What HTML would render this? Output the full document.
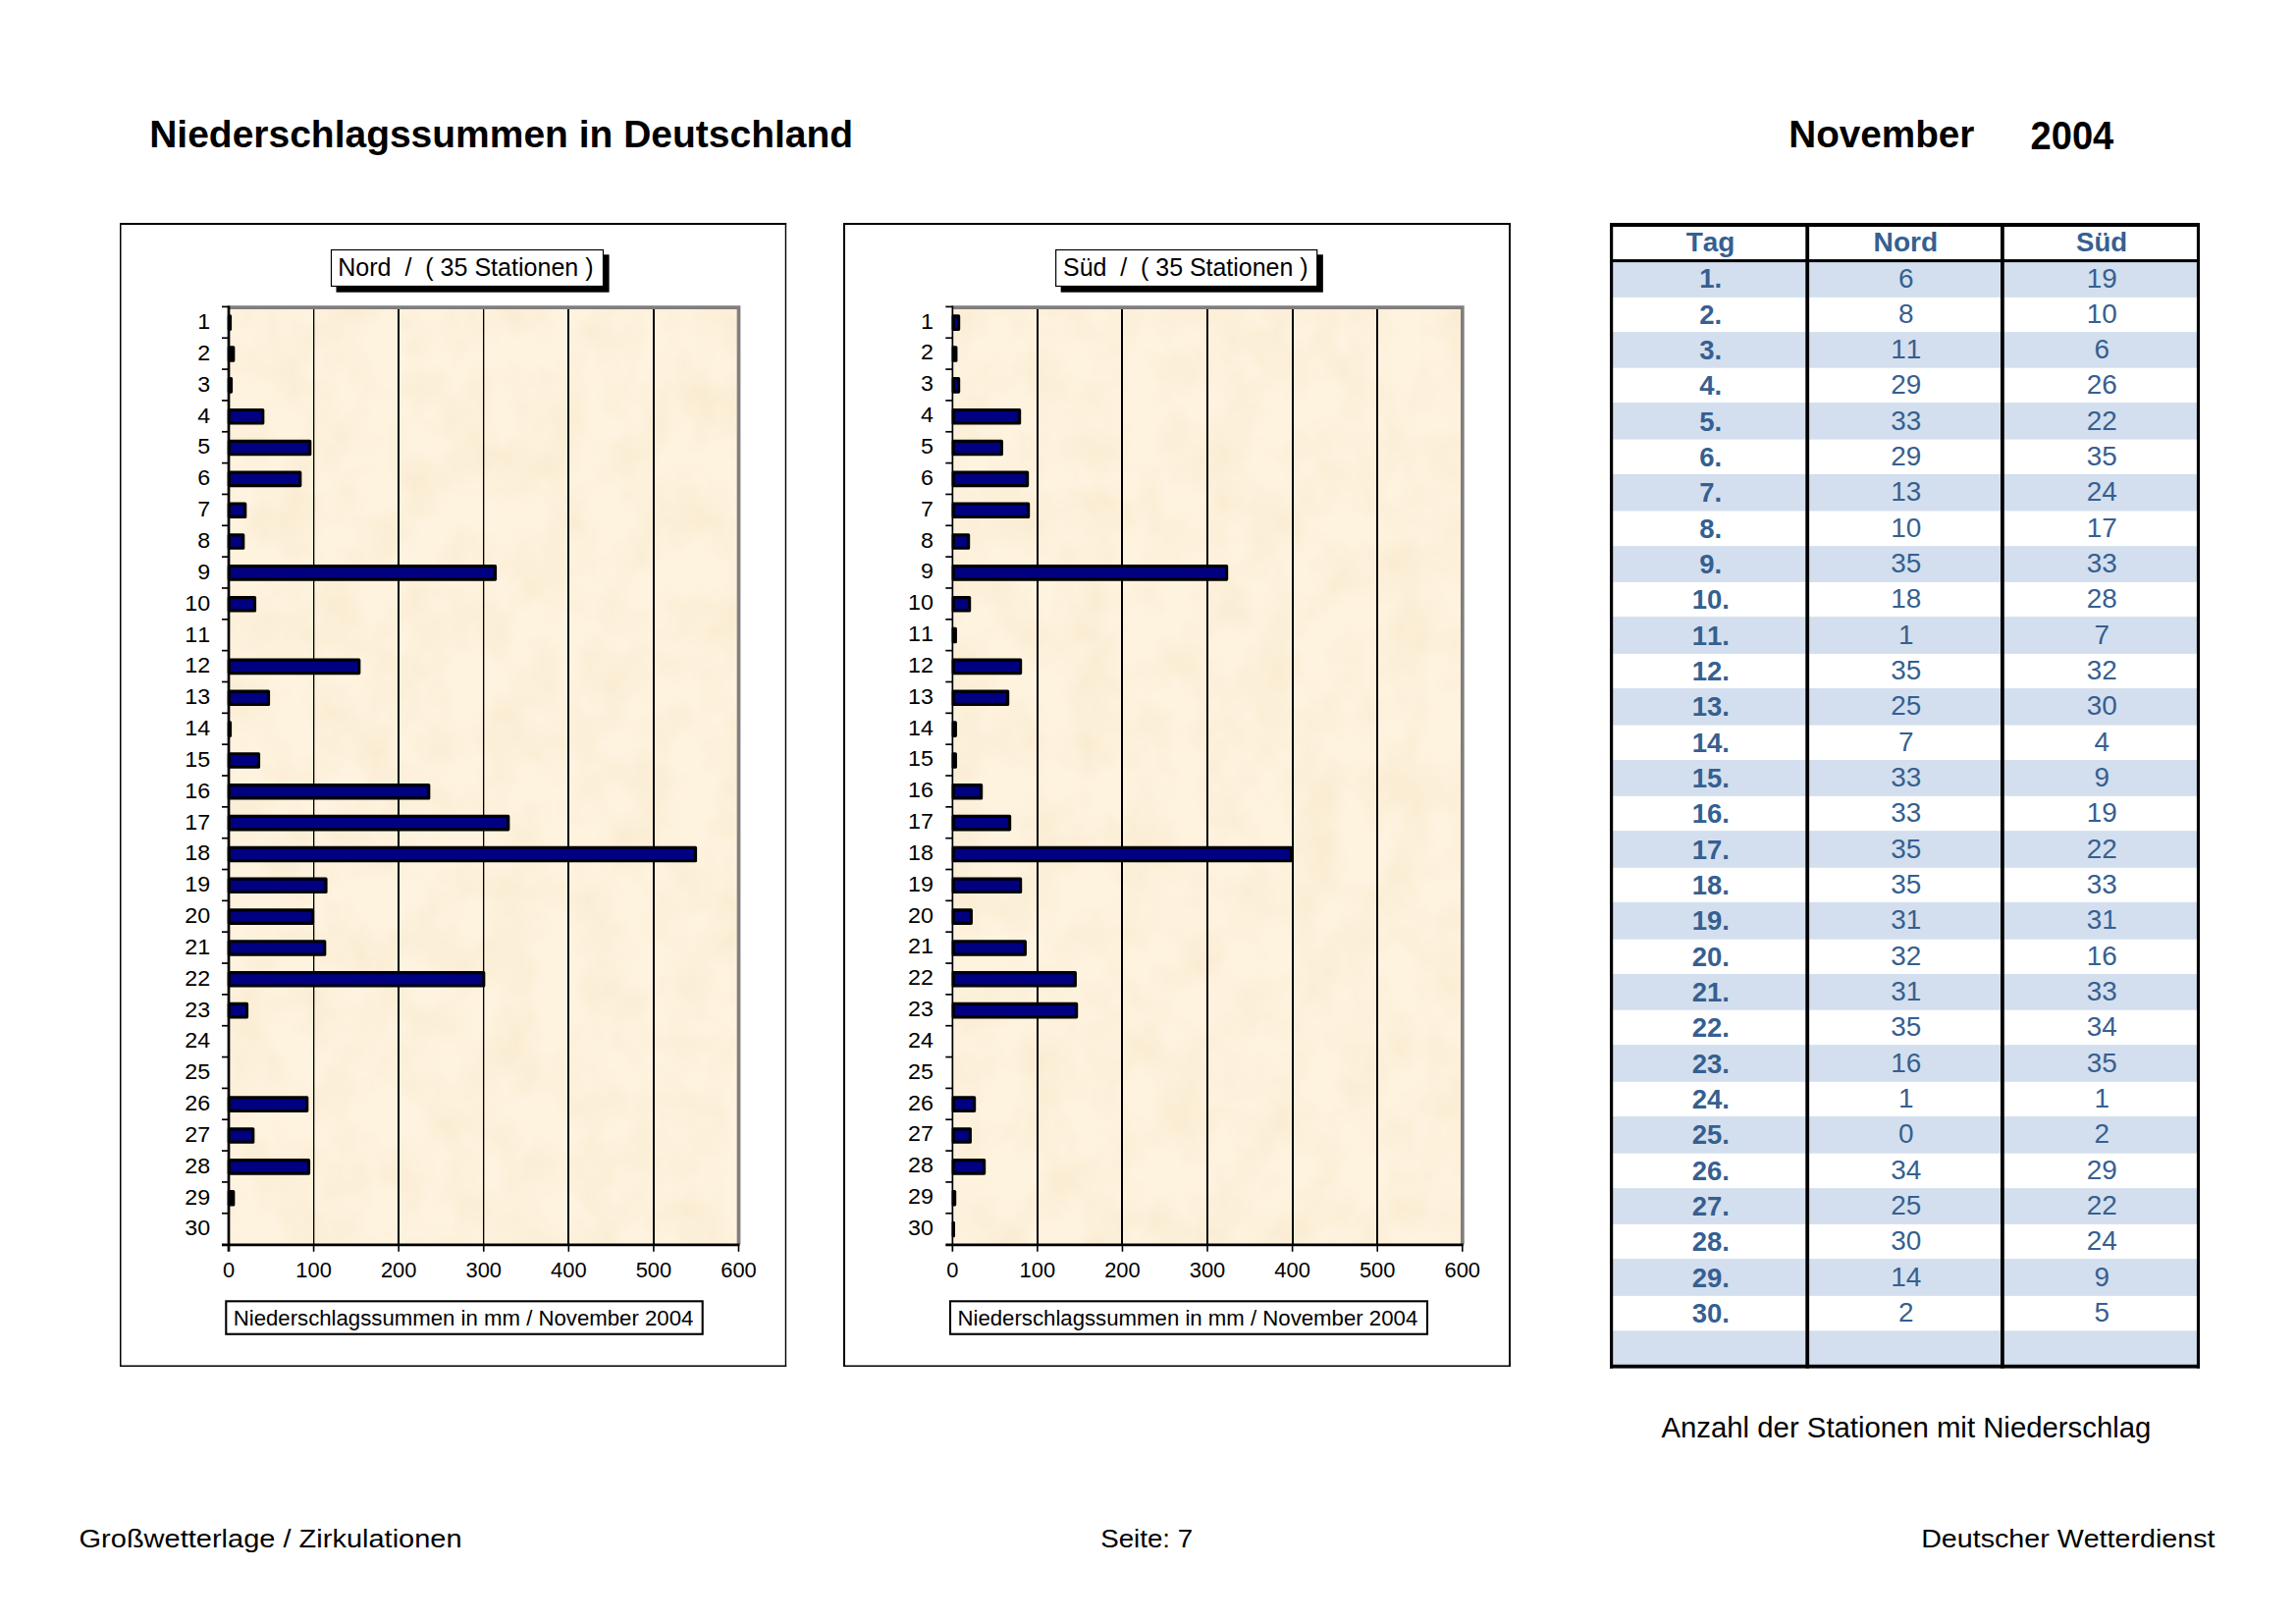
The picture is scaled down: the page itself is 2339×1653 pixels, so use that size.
<!DOCTYPE html>
<html lang="de"><head><meta charset="utf-8"><title>Niederschlagssummen in Deutschland – November 2004</title>
<style>html,body{margin:0;padding:0;background:#fff}body{width:2339px;height:1653px;overflow:hidden}svg{display:block}text{font-family:"Liberation Sans", Arial, Helvetica, sans-serif;fill:#000;font-kerning:none}</style>
</head><body>
<svg width="2339" height="1653" viewBox="0 0 2339 1653">
<rect width="2339" height="1653" fill="#fff"/>
<defs><filter id="tx" x="0" y="0" width="100%" height="100%" filterUnits="objectBoundingBox" color-interpolation-filters="sRGB"><feTurbulence type="fractalNoise" baseFrequency="0.022 0.018" numOctaves="3" seed="11" result="n"/><feColorMatrix in="n" type="matrix" values="0 0 0 0 0.86  0 0 0 0 0.70  0 0 0 0 0.42  0.21 0 0 0 -0.075"/></filter></defs>
<text x="152.19" y="150.2" font-size="39.3" font-weight="bold" textLength="716.88" lengthAdjust="spacingAndGlyphs" xml:space="preserve" style="white-space:pre">Niederschlagssummen in Deutschland</text>
<text x="1822.21" y="150.4" font-size="39.5" font-weight="bold" textLength="189.17" lengthAdjust="spacingAndGlyphs" xml:space="preserve" style="white-space:pre">November</text>
<text x="2068.58" y="151.8" font-size="40.4" font-weight="bold" textLength="84.72" lengthAdjust="spacingAndGlyphs" xml:space="preserve" style="white-space:pre">2004</text>
<g>
<rect x="122.75" y="228" width="677.7" height="1163.2" fill="#fff"/>
<line x1="122.75" y1="227" x2="122.75" y2="1391.8" stroke="#000" stroke-width="1.5"/>
<line x1="122" y1="228" x2="801.15" y2="228" stroke="#000" stroke-width="2"/>
<line x1="800.45" y1="227" x2="800.45" y2="1391.8" stroke="#000" stroke-width="1.4"/>
<line x1="122" y1="1391.25" x2="801.15" y2="1391.25" stroke="#000" stroke-width="1.3"/>
<rect x="342.5" y="259.3" width="278.1" height="38.4" fill="#000"/>
<rect x="337.5" y="254.5" width="277" height="37" fill="#fff" stroke="#000" stroke-width="1.2"/>
<text x="344.2" y="281.3" font-size="24.9" textLength="260.36" lengthAdjust="spacingAndGlyphs" xml:space="preserve" style="white-space:pre">Nord  /  ( 35 Stationen )</text>
<rect x="233" y="313" width="519.48" height="954.6" fill="#fef3df"/>
<rect x="233" y="313" width="519.48" height="954.6" fill="#000" filter="url(#tx)"/>
<path d="M233 313.1 H752.53 V1267.6" fill="none" stroke="#807e7e" stroke-width="3.7"/>
<rect x="319" y="315" width="1.3" height="952.6" fill="#000"/>
<rect x="405" y="315" width="2" height="952.6" fill="#000"/>
<rect x="492" y="315" width="1.3" height="952.6" fill="#000"/>
<rect x="578" y="315" width="2" height="952.6" fill="#000"/>
<rect x="665" y="315" width="2" height="952.6" fill="#000"/>
<rect x="233.35" y="321.97" width="1.15" height="13.4" fill="#000" stroke="#000" stroke-width="3.2" stroke-linejoin="round"/>
<rect x="233.35" y="353.81" width="4.4" height="13.4" fill="#000" stroke="#000" stroke-width="3.2" stroke-linejoin="round"/>
<rect x="233.35" y="385.65" width="2.15" height="13.4" fill="#000" stroke="#000" stroke-width="3.2" stroke-linejoin="round"/>
<rect x="233.35" y="417.49" width="34.4" height="13.4" fill="#000080" stroke="#000" stroke-width="3.2" stroke-linejoin="round"/>
<rect x="233.35" y="449.33" width="82.4" height="13.4" fill="#000080" stroke="#000" stroke-width="3.2" stroke-linejoin="round"/>
<rect x="233.35" y="481.17" width="72.4" height="13.4" fill="#000080" stroke="#000" stroke-width="3.2" stroke-linejoin="round"/>
<rect x="233.35" y="513.01" width="16.4" height="13.4" fill="#000080" stroke="#000" stroke-width="3.2" stroke-linejoin="round"/>
<rect x="233.35" y="544.85" width="14.4" height="13.4" fill="#000080" stroke="#000" stroke-width="3.2" stroke-linejoin="round"/>
<rect x="233.35" y="576.69" width="271.15" height="13.4" fill="#000080" stroke="#000" stroke-width="3.2" stroke-linejoin="round"/>
<rect x="233.35" y="608.53" width="26.15" height="13.4" fill="#000080" stroke="#000" stroke-width="3.2" stroke-linejoin="round"/>
<rect x="233.35" y="672.21" width="132.4" height="13.4" fill="#000080" stroke="#000" stroke-width="3.2" stroke-linejoin="round"/>
<rect x="233.35" y="704.05" width="40.15" height="13.4" fill="#000080" stroke="#000" stroke-width="3.2" stroke-linejoin="round"/>
<rect x="233.35" y="735.89" width="1.15" height="13.4" fill="#000" stroke="#000" stroke-width="3.2" stroke-linejoin="round"/>
<rect x="233.35" y="767.73" width="30.15" height="13.4" fill="#000080" stroke="#000" stroke-width="3.2" stroke-linejoin="round"/>
<rect x="233.35" y="799.57" width="203.4" height="13.4" fill="#000080" stroke="#000" stroke-width="3.2" stroke-linejoin="round"/>
<rect x="233.35" y="831.41" width="284.4" height="13.4" fill="#000080" stroke="#000" stroke-width="3.2" stroke-linejoin="round"/>
<rect x="233.35" y="863.25" width="475.15" height="13.4" fill="#000080" stroke="#000" stroke-width="3.2" stroke-linejoin="round"/>
<rect x="233.35" y="895.09" width="98.65" height="13.4" fill="#000080" stroke="#000" stroke-width="3.2" stroke-linejoin="round"/>
<rect x="233.35" y="926.93" width="85.15" height="13.4" fill="#000080" stroke="#000" stroke-width="3.2" stroke-linejoin="round"/>
<rect x="233.35" y="958.77" width="97.4" height="13.4" fill="#000080" stroke="#000" stroke-width="3.2" stroke-linejoin="round"/>
<rect x="233.35" y="990.61" width="259.4" height="13.4" fill="#000080" stroke="#000" stroke-width="3.2" stroke-linejoin="round"/>
<rect x="233.35" y="1022.45" width="18.15" height="13.4" fill="#000080" stroke="#000" stroke-width="3.2" stroke-linejoin="round"/>
<rect x="233.35" y="1117.97" width="79.4" height="13.4" fill="#000080" stroke="#000" stroke-width="3.2" stroke-linejoin="round"/>
<rect x="233.35" y="1149.81" width="24.4" height="13.4" fill="#000080" stroke="#000" stroke-width="3.2" stroke-linejoin="round"/>
<rect x="233.35" y="1181.65" width="81.15" height="13.4" fill="#000080" stroke="#000" stroke-width="3.2" stroke-linejoin="round"/>
<rect x="233.35" y="1213.49" width="4.4" height="13.4" fill="#000" stroke="#000" stroke-width="3.2" stroke-linejoin="round"/>
<line x1="233" y1="311.5" x2="233" y2="1274.8" stroke="#000" stroke-width="2.7"/>
<line x1="226" y1="1267.85" x2="753.38" y2="1267.85" stroke="#000" stroke-width="2.7"/>
<line x1="226" y1="312.4" x2="233" y2="312.4" stroke="#000" stroke-width="1.7"/>
<line x1="226" y1="344.24" x2="233" y2="344.24" stroke="#000" stroke-width="1.7"/>
<line x1="226" y1="376.08" x2="233" y2="376.08" stroke="#000" stroke-width="1.7"/>
<line x1="226" y1="407.92" x2="233" y2="407.92" stroke="#000" stroke-width="1.7"/>
<line x1="226" y1="439.76" x2="233" y2="439.76" stroke="#000" stroke-width="1.7"/>
<line x1="226" y1="471.6" x2="233" y2="471.6" stroke="#000" stroke-width="1.7"/>
<line x1="226" y1="503.44" x2="233" y2="503.44" stroke="#000" stroke-width="1.7"/>
<line x1="226" y1="535.28" x2="233" y2="535.28" stroke="#000" stroke-width="1.7"/>
<line x1="226" y1="567.12" x2="233" y2="567.12" stroke="#000" stroke-width="1.7"/>
<line x1="226" y1="598.96" x2="233" y2="598.96" stroke="#000" stroke-width="1.7"/>
<line x1="226" y1="630.8" x2="233" y2="630.8" stroke="#000" stroke-width="1.7"/>
<line x1="226" y1="662.64" x2="233" y2="662.64" stroke="#000" stroke-width="1.7"/>
<line x1="226" y1="694.48" x2="233" y2="694.48" stroke="#000" stroke-width="1.7"/>
<line x1="226" y1="726.32" x2="233" y2="726.32" stroke="#000" stroke-width="1.7"/>
<line x1="226" y1="758.16" x2="233" y2="758.16" stroke="#000" stroke-width="1.7"/>
<line x1="226" y1="790" x2="233" y2="790" stroke="#000" stroke-width="1.7"/>
<line x1="226" y1="821.84" x2="233" y2="821.84" stroke="#000" stroke-width="1.7"/>
<line x1="226" y1="853.68" x2="233" y2="853.68" stroke="#000" stroke-width="1.7"/>
<line x1="226" y1="885.52" x2="233" y2="885.52" stroke="#000" stroke-width="1.7"/>
<line x1="226" y1="917.36" x2="233" y2="917.36" stroke="#000" stroke-width="1.7"/>
<line x1="226" y1="949.2" x2="233" y2="949.2" stroke="#000" stroke-width="1.7"/>
<line x1="226" y1="981.04" x2="233" y2="981.04" stroke="#000" stroke-width="1.7"/>
<line x1="226" y1="1012.88" x2="233" y2="1012.88" stroke="#000" stroke-width="1.7"/>
<line x1="226" y1="1044.72" x2="233" y2="1044.72" stroke="#000" stroke-width="1.7"/>
<line x1="226" y1="1076.56" x2="233" y2="1076.56" stroke="#000" stroke-width="1.7"/>
<line x1="226" y1="1108.4" x2="233" y2="1108.4" stroke="#000" stroke-width="1.7"/>
<line x1="226" y1="1140.24" x2="233" y2="1140.24" stroke="#000" stroke-width="1.7"/>
<line x1="226" y1="1172.08" x2="233" y2="1172.08" stroke="#000" stroke-width="1.7"/>
<line x1="226" y1="1203.92" x2="233" y2="1203.92" stroke="#000" stroke-width="1.7"/>
<line x1="226" y1="1235.76" x2="233" y2="1235.76" stroke="#000" stroke-width="1.7"/>
<line x1="319.58" y1="1267.6" x2="319.58" y2="1274.8" stroke="#000" stroke-width="1.6"/>
<line x1="406.16" y1="1267.6" x2="406.16" y2="1274.8" stroke="#000" stroke-width="1.6"/>
<line x1="492.74" y1="1267.6" x2="492.74" y2="1274.8" stroke="#000" stroke-width="1.6"/>
<line x1="579.32" y1="1267.6" x2="579.32" y2="1274.8" stroke="#000" stroke-width="1.6"/>
<line x1="665.9" y1="1267.6" x2="665.9" y2="1274.8" stroke="#000" stroke-width="1.6"/>
<line x1="752.48" y1="1267.6" x2="752.48" y2="1274.8" stroke="#000" stroke-width="1.6"/>
<text x="201.27" y="335.12" font-size="22.8" textLength="12.93" lengthAdjust="spacingAndGlyphs">1</text>
<text x="201.27" y="366.96" font-size="22.8" textLength="12.93" lengthAdjust="spacingAndGlyphs">2</text>
<text x="201.27" y="398.8" font-size="22.8" textLength="12.93" lengthAdjust="spacingAndGlyphs">3</text>
<text x="201.27" y="430.64" font-size="22.8" textLength="12.93" lengthAdjust="spacingAndGlyphs">4</text>
<text x="201.27" y="462.48" font-size="22.8" textLength="12.93" lengthAdjust="spacingAndGlyphs">5</text>
<text x="201.27" y="494.32" font-size="22.8" textLength="12.93" lengthAdjust="spacingAndGlyphs">6</text>
<text x="201.27" y="526.16" font-size="22.8" textLength="12.93" lengthAdjust="spacingAndGlyphs">7</text>
<text x="201.27" y="558" font-size="22.8" textLength="12.93" lengthAdjust="spacingAndGlyphs">8</text>
<text x="201.27" y="589.84" font-size="22.8" textLength="12.93" lengthAdjust="spacingAndGlyphs">9</text>
<text x="188.33" y="621.68" font-size="22.8" textLength="25.87" lengthAdjust="spacingAndGlyphs">10</text>
<text x="188.33" y="653.52" font-size="22.8" textLength="25.87" lengthAdjust="spacingAndGlyphs">11</text>
<text x="188.33" y="685.36" font-size="22.8" textLength="25.87" lengthAdjust="spacingAndGlyphs">12</text>
<text x="188.33" y="717.2" font-size="22.8" textLength="25.87" lengthAdjust="spacingAndGlyphs">13</text>
<text x="188.33" y="749.04" font-size="22.8" textLength="25.87" lengthAdjust="spacingAndGlyphs">14</text>
<text x="188.33" y="780.88" font-size="22.8" textLength="25.87" lengthAdjust="spacingAndGlyphs">15</text>
<text x="188.33" y="812.72" font-size="22.8" textLength="25.87" lengthAdjust="spacingAndGlyphs">16</text>
<text x="188.33" y="844.56" font-size="22.8" textLength="25.87" lengthAdjust="spacingAndGlyphs">17</text>
<text x="188.33" y="876.4" font-size="22.8" textLength="25.87" lengthAdjust="spacingAndGlyphs">18</text>
<text x="188.33" y="908.24" font-size="22.8" textLength="25.87" lengthAdjust="spacingAndGlyphs">19</text>
<text x="188.33" y="940.08" font-size="22.8" textLength="25.87" lengthAdjust="spacingAndGlyphs">20</text>
<text x="188.33" y="971.92" font-size="22.8" textLength="25.87" lengthAdjust="spacingAndGlyphs">21</text>
<text x="188.33" y="1003.76" font-size="22.8" textLength="25.87" lengthAdjust="spacingAndGlyphs">22</text>
<text x="188.33" y="1035.6" font-size="22.8" textLength="25.87" lengthAdjust="spacingAndGlyphs">23</text>
<text x="188.33" y="1067.44" font-size="22.8" textLength="25.87" lengthAdjust="spacingAndGlyphs">24</text>
<text x="188.33" y="1099.28" font-size="22.8" textLength="25.87" lengthAdjust="spacingAndGlyphs">25</text>
<text x="188.33" y="1131.12" font-size="22.8" textLength="25.87" lengthAdjust="spacingAndGlyphs">26</text>
<text x="188.33" y="1162.96" font-size="22.8" textLength="25.87" lengthAdjust="spacingAndGlyphs">27</text>
<text x="188.33" y="1194.8" font-size="22.8" textLength="25.87" lengthAdjust="spacingAndGlyphs">28</text>
<text x="188.33" y="1226.64" font-size="22.8" textLength="25.87" lengthAdjust="spacingAndGlyphs">29</text>
<text x="188.33" y="1258.48" font-size="22.8" textLength="25.87" lengthAdjust="spacingAndGlyphs">30</text>
<text x="226.91" y="1301.3" font-size="22.8" textLength="12.17" lengthAdjust="spacingAndGlyphs">0</text>
<text x="301.32" y="1301.3" font-size="22.8" textLength="36.52" lengthAdjust="spacingAndGlyphs">100</text>
<text x="387.9" y="1301.3" font-size="22.8" textLength="36.52" lengthAdjust="spacingAndGlyphs">200</text>
<text x="474.48" y="1301.3" font-size="22.8" textLength="36.52" lengthAdjust="spacingAndGlyphs">300</text>
<text x="561.06" y="1301.3" font-size="22.8" textLength="36.52" lengthAdjust="spacingAndGlyphs">400</text>
<text x="647.64" y="1301.3" font-size="22.8" textLength="36.52" lengthAdjust="spacingAndGlyphs">500</text>
<text x="734.22" y="1301.3" font-size="22.8" textLength="36.52" lengthAdjust="spacingAndGlyphs">600</text>
<rect x="230.3" y="1325.3" width="485.4" height="33.45" fill="#fff" stroke="#000" stroke-width="2.1"/>
<text x="237.68" y="1350" font-size="22.7" textLength="468.72" lengthAdjust="spacingAndGlyphs" xml:space="preserve" style="white-space:pre">Niederschlagssummen in mm / November 2004</text>
</g>
<g>
<rect x="860" y="228" width="678" height="1163.2" fill="#fff"/>
<line x1="860" y1="227" x2="860" y2="1391.8" stroke="#000" stroke-width="2"/>
<line x1="859" y1="228" x2="1538.95" y2="228" stroke="#000" stroke-width="2"/>
<line x1="1538" y1="227" x2="1538" y2="1391.8" stroke="#000" stroke-width="1.9"/>
<line x1="859" y1="1391.25" x2="1538.95" y2="1391.25" stroke="#000" stroke-width="1.3"/>
<rect x="1080.65" y="259.3" width="267.2" height="38.4" fill="#000"/>
<rect x="1075.65" y="254.5" width="266.1" height="37" fill="#fff" stroke="#000" stroke-width="1.2"/>
<text x="1083.07" y="281.3" font-size="24.9" textLength="249.48" lengthAdjust="spacingAndGlyphs" xml:space="preserve" style="white-space:pre">Süd  /  ( 35 Stationen )</text>
<rect x="970.3" y="313" width="519.48" height="954.6" fill="#fef3df"/>
<rect x="970.3" y="313" width="519.48" height="954.6" fill="#000" filter="url(#tx)"/>
<path d="M970.3 313.1 H1489.83 V1267.6" fill="none" stroke="#807e7e" stroke-width="3.7"/>
<rect x="1056" y="315" width="2" height="952.6" fill="#000"/>
<rect x="1142" y="315" width="2" height="952.6" fill="#000"/>
<rect x="1229" y="315" width="2" height="952.6" fill="#000"/>
<rect x="1316" y="315" width="2" height="952.6" fill="#000"/>
<rect x="1402" y="315" width="2" height="952.6" fill="#000"/>
<rect x="971.2" y="321.97" width="5.4" height="13.4" fill="#000080" stroke="#000" stroke-width="3.2" stroke-linejoin="round"/>
<rect x="971.2" y="353.81" width="2.65" height="13.4" fill="#000" stroke="#000" stroke-width="3.2" stroke-linejoin="round"/>
<rect x="971.2" y="385.65" width="5.4" height="13.4" fill="#000080" stroke="#000" stroke-width="3.2" stroke-linejoin="round"/>
<rect x="971.2" y="417.49" width="67.4" height="13.4" fill="#000080" stroke="#000" stroke-width="3.2" stroke-linejoin="round"/>
<rect x="971.2" y="449.33" width="49.15" height="13.4" fill="#000080" stroke="#000" stroke-width="3.2" stroke-linejoin="round"/>
<rect x="971.2" y="481.17" width="75.4" height="13.4" fill="#000080" stroke="#000" stroke-width="3.2" stroke-linejoin="round"/>
<rect x="971.2" y="513.01" width="76.4" height="13.4" fill="#000080" stroke="#000" stroke-width="3.2" stroke-linejoin="round"/>
<rect x="971.2" y="544.85" width="15.4" height="13.4" fill="#000080" stroke="#000" stroke-width="3.2" stroke-linejoin="round"/>
<rect x="971.2" y="576.69" width="278.4" height="13.4" fill="#000080" stroke="#000" stroke-width="3.2" stroke-linejoin="round"/>
<rect x="971.2" y="608.53" width="16.4" height="13.4" fill="#000080" stroke="#000" stroke-width="3.2" stroke-linejoin="round"/>
<rect x="971.2" y="640.37" width="2.15" height="13.4" fill="#000" stroke="#000" stroke-width="3.2" stroke-linejoin="round"/>
<rect x="971.2" y="672.21" width="68.4" height="13.4" fill="#000080" stroke="#000" stroke-width="3.2" stroke-linejoin="round"/>
<rect x="971.2" y="704.05" width="55.4" height="13.4" fill="#000080" stroke="#000" stroke-width="3.2" stroke-linejoin="round"/>
<rect x="971.2" y="735.89" width="2.15" height="13.4" fill="#000" stroke="#000" stroke-width="3.2" stroke-linejoin="round"/>
<rect x="971.2" y="767.73" width="2.15" height="13.4" fill="#000" stroke="#000" stroke-width="3.2" stroke-linejoin="round"/>
<rect x="971.2" y="799.57" width="28.4" height="13.4" fill="#000080" stroke="#000" stroke-width="3.2" stroke-linejoin="round"/>
<rect x="971.2" y="831.41" width="57.4" height="13.4" fill="#000080" stroke="#000" stroke-width="3.2" stroke-linejoin="round"/>
<rect x="971.2" y="863.25" width="344.15" height="13.4" fill="#000080" stroke="#000" stroke-width="3.2" stroke-linejoin="round"/>
<rect x="971.2" y="895.09" width="68.4" height="13.4" fill="#000080" stroke="#000" stroke-width="3.2" stroke-linejoin="round"/>
<rect x="971.2" y="926.93" width="18.15" height="13.4" fill="#000080" stroke="#000" stroke-width="3.2" stroke-linejoin="round"/>
<rect x="971.2" y="958.77" width="73.15" height="13.4" fill="#000080" stroke="#000" stroke-width="3.2" stroke-linejoin="round"/>
<rect x="971.2" y="990.61" width="124.15" height="13.4" fill="#000080" stroke="#000" stroke-width="3.2" stroke-linejoin="round"/>
<rect x="971.2" y="1022.45" width="125.4" height="13.4" fill="#000080" stroke="#000" stroke-width="3.2" stroke-linejoin="round"/>
<rect x="971.2" y="1117.97" width="21.4" height="13.4" fill="#000080" stroke="#000" stroke-width="3.2" stroke-linejoin="round"/>
<rect x="971.2" y="1149.81" width="17.15" height="13.4" fill="#000080" stroke="#000" stroke-width="3.2" stroke-linejoin="round"/>
<rect x="971.2" y="1181.65" width="31.4" height="13.4" fill="#000080" stroke="#000" stroke-width="3.2" stroke-linejoin="round"/>
<rect x="971.2" y="1213.49" width="1.4" height="13.4" fill="#000" stroke="#000" stroke-width="3.2" stroke-linejoin="round"/>
<rect x="971.2" y="1245.33" width="0.2" height="13.4" fill="#000" stroke="#000" stroke-width="3.2" stroke-linejoin="round"/>
<line x1="970.35" y1="311.5" x2="970.35" y2="1274.8" stroke="#000" stroke-width="1.7"/>
<line x1="963.3" y1="1267.85" x2="1490.68" y2="1267.85" stroke="#000" stroke-width="2.7"/>
<line x1="963.3" y1="312.4" x2="970.3" y2="312.4" stroke="#000" stroke-width="1.7"/>
<line x1="963.3" y1="344.24" x2="970.3" y2="344.24" stroke="#000" stroke-width="1.7"/>
<line x1="963.3" y1="376.08" x2="970.3" y2="376.08" stroke="#000" stroke-width="1.7"/>
<line x1="963.3" y1="407.92" x2="970.3" y2="407.92" stroke="#000" stroke-width="1.7"/>
<line x1="963.3" y1="439.76" x2="970.3" y2="439.76" stroke="#000" stroke-width="1.7"/>
<line x1="963.3" y1="471.6" x2="970.3" y2="471.6" stroke="#000" stroke-width="1.7"/>
<line x1="963.3" y1="503.44" x2="970.3" y2="503.44" stroke="#000" stroke-width="1.7"/>
<line x1="963.3" y1="535.28" x2="970.3" y2="535.28" stroke="#000" stroke-width="1.7"/>
<line x1="963.3" y1="567.12" x2="970.3" y2="567.12" stroke="#000" stroke-width="1.7"/>
<line x1="963.3" y1="598.96" x2="970.3" y2="598.96" stroke="#000" stroke-width="1.7"/>
<line x1="963.3" y1="630.8" x2="970.3" y2="630.8" stroke="#000" stroke-width="1.7"/>
<line x1="963.3" y1="662.64" x2="970.3" y2="662.64" stroke="#000" stroke-width="1.7"/>
<line x1="963.3" y1="694.48" x2="970.3" y2="694.48" stroke="#000" stroke-width="1.7"/>
<line x1="963.3" y1="726.32" x2="970.3" y2="726.32" stroke="#000" stroke-width="1.7"/>
<line x1="963.3" y1="758.16" x2="970.3" y2="758.16" stroke="#000" stroke-width="1.7"/>
<line x1="963.3" y1="790" x2="970.3" y2="790" stroke="#000" stroke-width="1.7"/>
<line x1="963.3" y1="821.84" x2="970.3" y2="821.84" stroke="#000" stroke-width="1.7"/>
<line x1="963.3" y1="853.68" x2="970.3" y2="853.68" stroke="#000" stroke-width="1.7"/>
<line x1="963.3" y1="885.52" x2="970.3" y2="885.52" stroke="#000" stroke-width="1.7"/>
<line x1="963.3" y1="917.36" x2="970.3" y2="917.36" stroke="#000" stroke-width="1.7"/>
<line x1="963.3" y1="949.2" x2="970.3" y2="949.2" stroke="#000" stroke-width="1.7"/>
<line x1="963.3" y1="981.04" x2="970.3" y2="981.04" stroke="#000" stroke-width="1.7"/>
<line x1="963.3" y1="1012.88" x2="970.3" y2="1012.88" stroke="#000" stroke-width="1.7"/>
<line x1="963.3" y1="1044.72" x2="970.3" y2="1044.72" stroke="#000" stroke-width="1.7"/>
<line x1="963.3" y1="1076.56" x2="970.3" y2="1076.56" stroke="#000" stroke-width="1.7"/>
<line x1="963.3" y1="1108.4" x2="970.3" y2="1108.4" stroke="#000" stroke-width="1.7"/>
<line x1="963.3" y1="1140.24" x2="970.3" y2="1140.24" stroke="#000" stroke-width="1.7"/>
<line x1="963.3" y1="1172.08" x2="970.3" y2="1172.08" stroke="#000" stroke-width="1.7"/>
<line x1="963.3" y1="1203.92" x2="970.3" y2="1203.92" stroke="#000" stroke-width="1.7"/>
<line x1="963.3" y1="1235.76" x2="970.3" y2="1235.76" stroke="#000" stroke-width="1.7"/>
<line x1="1056.88" y1="1267.6" x2="1056.88" y2="1274.8" stroke="#000" stroke-width="1.6"/>
<line x1="1143.46" y1="1267.6" x2="1143.46" y2="1274.8" stroke="#000" stroke-width="1.6"/>
<line x1="1230.04" y1="1267.6" x2="1230.04" y2="1274.8" stroke="#000" stroke-width="1.6"/>
<line x1="1316.62" y1="1267.6" x2="1316.62" y2="1274.8" stroke="#000" stroke-width="1.6"/>
<line x1="1403.2" y1="1267.6" x2="1403.2" y2="1274.8" stroke="#000" stroke-width="1.6"/>
<line x1="1489.78" y1="1267.6" x2="1489.78" y2="1274.8" stroke="#000" stroke-width="1.6"/>
<text x="938.07" y="334.62" font-size="22.8" textLength="12.93" lengthAdjust="spacingAndGlyphs">1</text>
<text x="938.07" y="366.46" font-size="22.8" textLength="12.93" lengthAdjust="spacingAndGlyphs">2</text>
<text x="938.07" y="398.3" font-size="22.8" textLength="12.93" lengthAdjust="spacingAndGlyphs">3</text>
<text x="938.07" y="430.14" font-size="22.8" textLength="12.93" lengthAdjust="spacingAndGlyphs">4</text>
<text x="938.07" y="461.98" font-size="22.8" textLength="12.93" lengthAdjust="spacingAndGlyphs">5</text>
<text x="938.07" y="493.82" font-size="22.8" textLength="12.93" lengthAdjust="spacingAndGlyphs">6</text>
<text x="938.07" y="525.66" font-size="22.8" textLength="12.93" lengthAdjust="spacingAndGlyphs">7</text>
<text x="938.07" y="557.5" font-size="22.8" textLength="12.93" lengthAdjust="spacingAndGlyphs">8</text>
<text x="938.07" y="589.34" font-size="22.8" textLength="12.93" lengthAdjust="spacingAndGlyphs">9</text>
<text x="925.13" y="621.18" font-size="22.8" textLength="25.87" lengthAdjust="spacingAndGlyphs">10</text>
<text x="925.13" y="653.02" font-size="22.8" textLength="25.87" lengthAdjust="spacingAndGlyphs">11</text>
<text x="925.13" y="684.86" font-size="22.8" textLength="25.87" lengthAdjust="spacingAndGlyphs">12</text>
<text x="925.13" y="716.7" font-size="22.8" textLength="25.87" lengthAdjust="spacingAndGlyphs">13</text>
<text x="925.13" y="748.54" font-size="22.8" textLength="25.87" lengthAdjust="spacingAndGlyphs">14</text>
<text x="925.13" y="780.38" font-size="22.8" textLength="25.87" lengthAdjust="spacingAndGlyphs">15</text>
<text x="925.13" y="812.22" font-size="22.8" textLength="25.87" lengthAdjust="spacingAndGlyphs">16</text>
<text x="925.13" y="844.06" font-size="22.8" textLength="25.87" lengthAdjust="spacingAndGlyphs">17</text>
<text x="925.13" y="875.9" font-size="22.8" textLength="25.87" lengthAdjust="spacingAndGlyphs">18</text>
<text x="925.13" y="907.74" font-size="22.8" textLength="25.87" lengthAdjust="spacingAndGlyphs">19</text>
<text x="925.13" y="939.58" font-size="22.8" textLength="25.87" lengthAdjust="spacingAndGlyphs">20</text>
<text x="925.13" y="971.42" font-size="22.8" textLength="25.87" lengthAdjust="spacingAndGlyphs">21</text>
<text x="925.13" y="1003.26" font-size="22.8" textLength="25.87" lengthAdjust="spacingAndGlyphs">22</text>
<text x="925.13" y="1035.1" font-size="22.8" textLength="25.87" lengthAdjust="spacingAndGlyphs">23</text>
<text x="925.13" y="1066.94" font-size="22.8" textLength="25.87" lengthAdjust="spacingAndGlyphs">24</text>
<text x="925.13" y="1098.78" font-size="22.8" textLength="25.87" lengthAdjust="spacingAndGlyphs">25</text>
<text x="925.13" y="1130.62" font-size="22.8" textLength="25.87" lengthAdjust="spacingAndGlyphs">26</text>
<text x="925.13" y="1162.46" font-size="22.8" textLength="25.87" lengthAdjust="spacingAndGlyphs">27</text>
<text x="925.13" y="1194.3" font-size="22.8" textLength="25.87" lengthAdjust="spacingAndGlyphs">28</text>
<text x="925.13" y="1226.14" font-size="22.8" textLength="25.87" lengthAdjust="spacingAndGlyphs">29</text>
<text x="925.13" y="1257.98" font-size="22.8" textLength="25.87" lengthAdjust="spacingAndGlyphs">30</text>
<text x="964.21" y="1301.3" font-size="22.8" textLength="12.17" lengthAdjust="spacingAndGlyphs">0</text>
<text x="1038.62" y="1301.3" font-size="22.8" textLength="36.52" lengthAdjust="spacingAndGlyphs">100</text>
<text x="1125.2" y="1301.3" font-size="22.8" textLength="36.52" lengthAdjust="spacingAndGlyphs">200</text>
<text x="1211.78" y="1301.3" font-size="22.8" textLength="36.52" lengthAdjust="spacingAndGlyphs">300</text>
<text x="1298.36" y="1301.3" font-size="22.8" textLength="36.52" lengthAdjust="spacingAndGlyphs">400</text>
<text x="1384.94" y="1301.3" font-size="22.8" textLength="36.52" lengthAdjust="spacingAndGlyphs">500</text>
<text x="1471.52" y="1301.3" font-size="22.8" textLength="36.52" lengthAdjust="spacingAndGlyphs">600</text>
<rect x="968" y="1325.3" width="486" height="33.45" fill="#fff" stroke="#000" stroke-width="2.1"/>
<text x="975.48" y="1350" font-size="22.7" textLength="468.77" lengthAdjust="spacingAndGlyphs" xml:space="preserve" style="white-space:pre">Niederschlagssummen in mm / November 2004</text>
</g>
<g>
<rect x="1642" y="267.1" width="596" height="35.8" fill="#d3dfee"/>
<rect x="1642" y="338.1" width="596" height="36.6" fill="#d3dfee"/>
<rect x="1642" y="410.05" width="596" height="37.55" fill="#d3dfee"/>
<rect x="1642" y="482.9" width="596" height="37.55" fill="#d3dfee"/>
<rect x="1642" y="556.1" width="596" height="36.8" fill="#d3dfee"/>
<rect x="1642" y="628.1" width="596" height="37.8" fill="#d3dfee"/>
<rect x="1642" y="700.95" width="596" height="37.65" fill="#d3dfee"/>
<rect x="1642" y="774" width="596" height="36.85" fill="#d3dfee"/>
<rect x="1642" y="846.1" width="596" height="37.7" fill="#d3dfee"/>
<rect x="1642" y="918.8" width="596" height="37.9" fill="#d3dfee"/>
<rect x="1642" y="992" width="596" height="36.7" fill="#d3dfee"/>
<rect x="1642" y="1064.15" width="596" height="37.65" fill="#d3dfee"/>
<rect x="1642" y="1137" width="596" height="37.7" fill="#d3dfee"/>
<rect x="1642" y="1210.15" width="596" height="36.75" fill="#d3dfee"/>
<rect x="1642" y="1282.1" width="596" height="37.75" fill="#d3dfee"/>
<rect x="1642" y="1355.25" width="596" height="35.75" fill="#d3dfee"/>
<rect x="1640" y="227" width="601" height="4" fill="#000"/>
<rect x="1640" y="1389.8" width="601" height="3.8" fill="#000"/>
<rect x="1640" y="227" width="3.2" height="1166.6" fill="#000"/>
<rect x="2237.9" y="227" width="3.1" height="1166.6" fill="#000"/>
<rect x="1640" y="264.05" width="601" height="3.05" fill="#000"/>
<rect x="1839.3" y="227" width="3.8" height="1166.6" fill="#000"/>
<rect x="2038" y="227" width="3.8" height="1166.6" fill="#000"/>
<text x="1717.69" y="256.3" font-size="28.3" font-weight="bold" textLength="49.68" lengthAdjust="spacingAndGlyphs" xml:space="preserve" style="white-space:pre;fill:#365f91">Tag</text>
<text x="1908.62" y="256" font-size="28.3" font-weight="bold" textLength="65.64" lengthAdjust="spacingAndGlyphs" xml:space="preserve" style="white-space:pre;fill:#365f91">Nord</text>
<text x="2115.11" y="256" font-size="28.3" font-weight="bold" textLength="52.11" lengthAdjust="spacingAndGlyphs" xml:space="preserve" style="white-space:pre;fill:#365f91">Süd</text>
<text x="1731.34" y="293.4" font-size="27.9" font-weight="bold" style="fill:#365f91" textLength="22.92" lengthAdjust="spacingAndGlyphs">1.</text>
<text x="1934.03" y="292.5" font-size="27" style="fill:#365f91" textLength="15.54" lengthAdjust="spacingAndGlyphs">6</text>
<text x="2125.66" y="292.5" font-size="27" style="fill:#365f91" textLength="31.08" lengthAdjust="spacingAndGlyphs">19</text>
<text x="1731.34" y="329.73" font-size="27.9" font-weight="bold" style="fill:#365f91" textLength="22.92" lengthAdjust="spacingAndGlyphs">2.</text>
<text x="1934.03" y="328.83" font-size="27" style="fill:#365f91" textLength="15.54" lengthAdjust="spacingAndGlyphs">8</text>
<text x="2125.66" y="328.83" font-size="27" style="fill:#365f91" textLength="31.08" lengthAdjust="spacingAndGlyphs">10</text>
<text x="1731.34" y="366.06" font-size="27.9" font-weight="bold" style="fill:#365f91" textLength="22.92" lengthAdjust="spacingAndGlyphs">3.</text>
<text x="1926.26" y="365.16" font-size="27" style="fill:#365f91" textLength="31.08" lengthAdjust="spacingAndGlyphs">11</text>
<text x="2133.43" y="365.16" font-size="27" style="fill:#365f91" textLength="15.54" lengthAdjust="spacingAndGlyphs">6</text>
<text x="1731.34" y="402.39" font-size="27.9" font-weight="bold" style="fill:#365f91" textLength="22.92" lengthAdjust="spacingAndGlyphs">4.</text>
<text x="1926.26" y="401.49" font-size="27" style="fill:#365f91" textLength="31.08" lengthAdjust="spacingAndGlyphs">29</text>
<text x="2125.66" y="401.49" font-size="27" style="fill:#365f91" textLength="31.08" lengthAdjust="spacingAndGlyphs">26</text>
<text x="1731.34" y="438.72" font-size="27.9" font-weight="bold" style="fill:#365f91" textLength="22.92" lengthAdjust="spacingAndGlyphs">5.</text>
<text x="1926.26" y="437.82" font-size="27" style="fill:#365f91" textLength="31.08" lengthAdjust="spacingAndGlyphs">33</text>
<text x="2125.66" y="437.82" font-size="27" style="fill:#365f91" textLength="31.08" lengthAdjust="spacingAndGlyphs">22</text>
<text x="1731.34" y="475.05" font-size="27.9" font-weight="bold" style="fill:#365f91" textLength="22.92" lengthAdjust="spacingAndGlyphs">6.</text>
<text x="1926.26" y="474.15" font-size="27" style="fill:#365f91" textLength="31.08" lengthAdjust="spacingAndGlyphs">29</text>
<text x="2125.66" y="474.15" font-size="27" style="fill:#365f91" textLength="31.08" lengthAdjust="spacingAndGlyphs">35</text>
<text x="1731.34" y="511.38" font-size="27.9" font-weight="bold" style="fill:#365f91" textLength="22.92" lengthAdjust="spacingAndGlyphs">7.</text>
<text x="1926.26" y="510.48" font-size="27" style="fill:#365f91" textLength="31.08" lengthAdjust="spacingAndGlyphs">13</text>
<text x="2125.66" y="510.48" font-size="27" style="fill:#365f91" textLength="31.08" lengthAdjust="spacingAndGlyphs">24</text>
<text x="1731.34" y="547.71" font-size="27.9" font-weight="bold" style="fill:#365f91" textLength="22.92" lengthAdjust="spacingAndGlyphs">8.</text>
<text x="1926.26" y="546.81" font-size="27" style="fill:#365f91" textLength="31.08" lengthAdjust="spacingAndGlyphs">10</text>
<text x="2125.66" y="546.81" font-size="27" style="fill:#365f91" textLength="31.08" lengthAdjust="spacingAndGlyphs">17</text>
<text x="1731.34" y="584.04" font-size="27.9" font-weight="bold" style="fill:#365f91" textLength="22.92" lengthAdjust="spacingAndGlyphs">9.</text>
<text x="1926.26" y="583.14" font-size="27" style="fill:#365f91" textLength="31.08" lengthAdjust="spacingAndGlyphs">35</text>
<text x="2125.66" y="583.14" font-size="27" style="fill:#365f91" textLength="31.08" lengthAdjust="spacingAndGlyphs">33</text>
<text x="1723.7" y="620.37" font-size="27.9" font-weight="bold" style="fill:#365f91" textLength="38.2" lengthAdjust="spacingAndGlyphs">10.</text>
<text x="1926.26" y="619.47" font-size="27" style="fill:#365f91" textLength="31.08" lengthAdjust="spacingAndGlyphs">18</text>
<text x="2125.66" y="619.47" font-size="27" style="fill:#365f91" textLength="31.08" lengthAdjust="spacingAndGlyphs">28</text>
<text x="1723.7" y="656.7" font-size="27.9" font-weight="bold" style="fill:#365f91" textLength="38.2" lengthAdjust="spacingAndGlyphs">11.</text>
<text x="1934.03" y="655.8" font-size="27" style="fill:#365f91" textLength="15.54" lengthAdjust="spacingAndGlyphs">1</text>
<text x="2133.43" y="655.8" font-size="27" style="fill:#365f91" textLength="15.54" lengthAdjust="spacingAndGlyphs">7</text>
<text x="1723.7" y="693.03" font-size="27.9" font-weight="bold" style="fill:#365f91" textLength="38.2" lengthAdjust="spacingAndGlyphs">12.</text>
<text x="1926.26" y="692.13" font-size="27" style="fill:#365f91" textLength="31.08" lengthAdjust="spacingAndGlyphs">35</text>
<text x="2125.66" y="692.13" font-size="27" style="fill:#365f91" textLength="31.08" lengthAdjust="spacingAndGlyphs">32</text>
<text x="1723.7" y="729.36" font-size="27.9" font-weight="bold" style="fill:#365f91" textLength="38.2" lengthAdjust="spacingAndGlyphs">13.</text>
<text x="1926.26" y="728.46" font-size="27" style="fill:#365f91" textLength="31.08" lengthAdjust="spacingAndGlyphs">25</text>
<text x="2125.66" y="728.46" font-size="27" style="fill:#365f91" textLength="31.08" lengthAdjust="spacingAndGlyphs">30</text>
<text x="1723.7" y="765.69" font-size="27.9" font-weight="bold" style="fill:#365f91" textLength="38.2" lengthAdjust="spacingAndGlyphs">14.</text>
<text x="1934.03" y="764.79" font-size="27" style="fill:#365f91" textLength="15.54" lengthAdjust="spacingAndGlyphs">7</text>
<text x="2133.43" y="764.79" font-size="27" style="fill:#365f91" textLength="15.54" lengthAdjust="spacingAndGlyphs">4</text>
<text x="1723.7" y="802.02" font-size="27.9" font-weight="bold" style="fill:#365f91" textLength="38.2" lengthAdjust="spacingAndGlyphs">15.</text>
<text x="1926.26" y="801.12" font-size="27" style="fill:#365f91" textLength="31.08" lengthAdjust="spacingAndGlyphs">33</text>
<text x="2133.43" y="801.12" font-size="27" style="fill:#365f91" textLength="15.54" lengthAdjust="spacingAndGlyphs">9</text>
<text x="1723.7" y="838.35" font-size="27.9" font-weight="bold" style="fill:#365f91" textLength="38.2" lengthAdjust="spacingAndGlyphs">16.</text>
<text x="1926.26" y="837.45" font-size="27" style="fill:#365f91" textLength="31.08" lengthAdjust="spacingAndGlyphs">33</text>
<text x="2125.66" y="837.45" font-size="27" style="fill:#365f91" textLength="31.08" lengthAdjust="spacingAndGlyphs">19</text>
<text x="1723.7" y="874.68" font-size="27.9" font-weight="bold" style="fill:#365f91" textLength="38.2" lengthAdjust="spacingAndGlyphs">17.</text>
<text x="1926.26" y="873.78" font-size="27" style="fill:#365f91" textLength="31.08" lengthAdjust="spacingAndGlyphs">35</text>
<text x="2125.66" y="873.78" font-size="27" style="fill:#365f91" textLength="31.08" lengthAdjust="spacingAndGlyphs">22</text>
<text x="1723.7" y="911.01" font-size="27.9" font-weight="bold" style="fill:#365f91" textLength="38.2" lengthAdjust="spacingAndGlyphs">18.</text>
<text x="1926.26" y="910.11" font-size="27" style="fill:#365f91" textLength="31.08" lengthAdjust="spacingAndGlyphs">35</text>
<text x="2125.66" y="910.11" font-size="27" style="fill:#365f91" textLength="31.08" lengthAdjust="spacingAndGlyphs">33</text>
<text x="1723.7" y="947.34" font-size="27.9" font-weight="bold" style="fill:#365f91" textLength="38.2" lengthAdjust="spacingAndGlyphs">19.</text>
<text x="1926.26" y="946.44" font-size="27" style="fill:#365f91" textLength="31.08" lengthAdjust="spacingAndGlyphs">31</text>
<text x="2125.66" y="946.44" font-size="27" style="fill:#365f91" textLength="31.08" lengthAdjust="spacingAndGlyphs">31</text>
<text x="1723.7" y="983.67" font-size="27.9" font-weight="bold" style="fill:#365f91" textLength="38.2" lengthAdjust="spacingAndGlyphs">20.</text>
<text x="1926.26" y="982.77" font-size="27" style="fill:#365f91" textLength="31.08" lengthAdjust="spacingAndGlyphs">32</text>
<text x="2125.66" y="982.77" font-size="27" style="fill:#365f91" textLength="31.08" lengthAdjust="spacingAndGlyphs">16</text>
<text x="1723.7" y="1020" font-size="27.9" font-weight="bold" style="fill:#365f91" textLength="38.2" lengthAdjust="spacingAndGlyphs">21.</text>
<text x="1926.26" y="1019.1" font-size="27" style="fill:#365f91" textLength="31.08" lengthAdjust="spacingAndGlyphs">31</text>
<text x="2125.66" y="1019.1" font-size="27" style="fill:#365f91" textLength="31.08" lengthAdjust="spacingAndGlyphs">33</text>
<text x="1723.7" y="1056.33" font-size="27.9" font-weight="bold" style="fill:#365f91" textLength="38.2" lengthAdjust="spacingAndGlyphs">22.</text>
<text x="1926.26" y="1055.43" font-size="27" style="fill:#365f91" textLength="31.08" lengthAdjust="spacingAndGlyphs">35</text>
<text x="2125.66" y="1055.43" font-size="27" style="fill:#365f91" textLength="31.08" lengthAdjust="spacingAndGlyphs">34</text>
<text x="1723.7" y="1092.66" font-size="27.9" font-weight="bold" style="fill:#365f91" textLength="38.2" lengthAdjust="spacingAndGlyphs">23.</text>
<text x="1926.26" y="1091.76" font-size="27" style="fill:#365f91" textLength="31.08" lengthAdjust="spacingAndGlyphs">16</text>
<text x="2125.66" y="1091.76" font-size="27" style="fill:#365f91" textLength="31.08" lengthAdjust="spacingAndGlyphs">35</text>
<text x="1723.7" y="1128.99" font-size="27.9" font-weight="bold" style="fill:#365f91" textLength="38.2" lengthAdjust="spacingAndGlyphs">24.</text>
<text x="1934.03" y="1128.09" font-size="27" style="fill:#365f91" textLength="15.54" lengthAdjust="spacingAndGlyphs">1</text>
<text x="2133.43" y="1128.09" font-size="27" style="fill:#365f91" textLength="15.54" lengthAdjust="spacingAndGlyphs">1</text>
<text x="1723.7" y="1165.32" font-size="27.9" font-weight="bold" style="fill:#365f91" textLength="38.2" lengthAdjust="spacingAndGlyphs">25.</text>
<text x="1934.03" y="1164.42" font-size="27" style="fill:#365f91" textLength="15.54" lengthAdjust="spacingAndGlyphs">0</text>
<text x="2133.43" y="1164.42" font-size="27" style="fill:#365f91" textLength="15.54" lengthAdjust="spacingAndGlyphs">2</text>
<text x="1723.7" y="1201.65" font-size="27.9" font-weight="bold" style="fill:#365f91" textLength="38.2" lengthAdjust="spacingAndGlyphs">26.</text>
<text x="1926.26" y="1200.75" font-size="27" style="fill:#365f91" textLength="31.08" lengthAdjust="spacingAndGlyphs">34</text>
<text x="2125.66" y="1200.75" font-size="27" style="fill:#365f91" textLength="31.08" lengthAdjust="spacingAndGlyphs">29</text>
<text x="1723.7" y="1237.98" font-size="27.9" font-weight="bold" style="fill:#365f91" textLength="38.2" lengthAdjust="spacingAndGlyphs">27.</text>
<text x="1926.26" y="1237.08" font-size="27" style="fill:#365f91" textLength="31.08" lengthAdjust="spacingAndGlyphs">25</text>
<text x="2125.66" y="1237.08" font-size="27" style="fill:#365f91" textLength="31.08" lengthAdjust="spacingAndGlyphs">22</text>
<text x="1723.7" y="1274.31" font-size="27.9" font-weight="bold" style="fill:#365f91" textLength="38.2" lengthAdjust="spacingAndGlyphs">28.</text>
<text x="1926.26" y="1273.41" font-size="27" style="fill:#365f91" textLength="31.08" lengthAdjust="spacingAndGlyphs">30</text>
<text x="2125.66" y="1273.41" font-size="27" style="fill:#365f91" textLength="31.08" lengthAdjust="spacingAndGlyphs">24</text>
<text x="1723.7" y="1310.64" font-size="27.9" font-weight="bold" style="fill:#365f91" textLength="38.2" lengthAdjust="spacingAndGlyphs">29.</text>
<text x="1926.26" y="1309.74" font-size="27" style="fill:#365f91" textLength="31.08" lengthAdjust="spacingAndGlyphs">14</text>
<text x="2133.43" y="1309.74" font-size="27" style="fill:#365f91" textLength="15.54" lengthAdjust="spacingAndGlyphs">9</text>
<text x="1723.7" y="1346.97" font-size="27.9" font-weight="bold" style="fill:#365f91" textLength="38.2" lengthAdjust="spacingAndGlyphs">30.</text>
<text x="1934.03" y="1346.07" font-size="27" style="fill:#365f91" textLength="15.54" lengthAdjust="spacingAndGlyphs">2</text>
<text x="2133.43" y="1346.07" font-size="27" style="fill:#365f91" textLength="15.54" lengthAdjust="spacingAndGlyphs">5</text>
</g>
<text x="1692.44" y="1463.75" font-size="29.8" textLength="498.95" lengthAdjust="spacingAndGlyphs" xml:space="preserve" style="white-space:pre">Anzahl der Stationen mit Niederschlag</text>
<text x="80.54" y="1576.25" font-size="26" textLength="390.09" lengthAdjust="spacingAndGlyphs" xml:space="preserve" style="white-space:pre">Großwetterlage / Zirkulationen</text>
<text x="1121.24" y="1576.25" font-size="26" textLength="93.9" lengthAdjust="spacingAndGlyphs" xml:space="preserve" style="white-space:pre">Seite: 7</text>
<text x="1957.15" y="1576.25" font-size="26" textLength="299.31" lengthAdjust="spacingAndGlyphs" xml:space="preserve" style="white-space:pre">Deutscher Wetterdienst</text>
</svg></body></html>
